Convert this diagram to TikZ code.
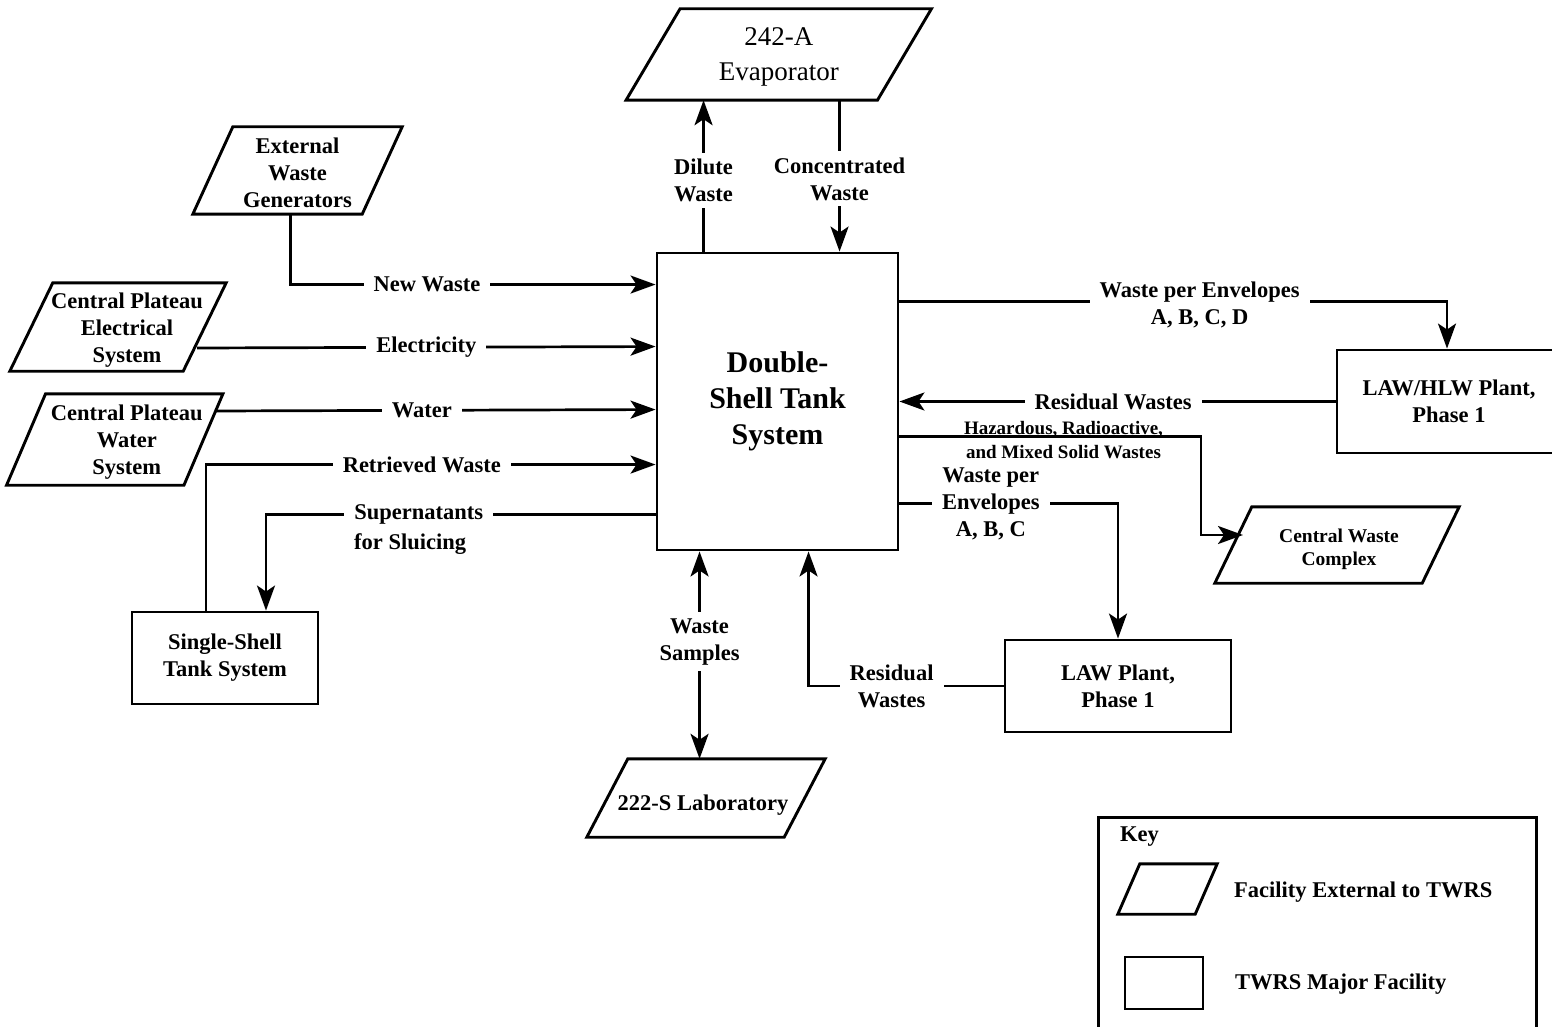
\documentclass[tikz,border=0pt]{standalone}
\usepackage{fontspec}
\setmainfont{Liberation Serif}
\usetikzlibrary{arrows.meta,calc}
\newcommand\labfont{\fontsize{22.5}{27}\selectfont\bfseries}
\newcommand\hzfont{\fontsize{19}{24}\selectfont\bfseries}
\newcommand\cwfont{\fontsize{19.5}{23}\selectfont\bfseries}
\newcommand\dstfont{\fontsize{30}{36}\selectfont\bfseries}
\newcommand\evfont{\fontsize{27}{35}\selectfont}
% #1 name, #2 centre, #3 side, #4 height, #5 slant, #6 text, #7 font, #8 text shift
\newcommand\paragram[8]{%
  \node[pbox,minimum width=#3,minimum height=#4] (#1) at (#2) {};
  \node[pbox,font=#7,#8] (#1-t) at (#1.center) {#6};
  \draw[pline] ([xshift=#5/2]#1.north west) -- ([xshift=#5/2]#1.north east)
     -- ([xshift=-#5/2]#1.south east) -- ([xshift=-#5/2]#1.south west) -- cycle;}
\begin{document}
\begin{tikzpicture}[x=1pt,y=-1pt,
  ln/.style={line width=2.7pt},
  arr/.style={ln,-{Stealth[length=25pt,width=18pt,inset=6pt]}},
  dblarr/.style={ln,{Stealth[length=25pt,width=18pt,inset=6pt]}-{Stealth[length=25pt,width=18pt,inset=6pt]}},
  pline/.style={line width=2.9pt,line join=miter},
  box/.style={draw,line width=2.9pt,rectangle,inner sep=0pt,align=center,font=\labfont},
  pbox/.style={rectangle,inner sep=0pt,align=center},
  lbl/.style={fill=white,inner xsep=10pt,inner ysep=6pt,align=center,font=\labfont},
  txt/.style={inner sep=0pt,align=center,font=\labfont},
]
\useasboundingbox (0,0) rectangle (1552,1027);

% main tank system
\node[box,font=\dstfont,minimum width=241,minimum height=297] (dst) at (777.5,401.5) {\raisebox{-3pt}{Double-}\\\raisebox{-3pt}{Shell Tank}\\\raisebox{-3pt}{System}};

% external facilities (parallelograms)
\paragram{evap}{778.75,54.5}{251}{91}{54}{242-A\\Evaporator}{\evfont}{yshift=-2pt}
\paragram{ewg}{297.5,170.5}{169}{87}{40}{External\\Waste\\Generators}{\labfont}{yshift=-2pt}
\paragram{elec}{118,327}{173}{88}{43}{Central Plateau\\Electrical\\System}{\labfont}{xshift=9pt,yshift=-3pt}
\paragram{water}{114.75,439.5}{177}{91}{39}{Central Plateau\\Water\\System}{\labfont}{xshift=12pt,yshift=-3pt}
\paragram{cwc}{1337,545}{207}{76}{37}{Central Waste\\Complex}{\cwfont}{xshift=2pt,yshift=-4pt}
\paragram{lab}{706,798}{197}{78}{41}{222-S Laboratory}{\labfont}{xshift=-3pt,yshift=-7pt}

% major facilities
\node[box,minimum width=186,minimum height=92] (sst) at (225,658) {Single-Shell\\Tank System};
\node[box,minimum width=226,minimum height=92] (law) at (1118,686) {LAW Plant,\\Phase 1};
\node[box,minimum width=224,minimum height=103] (lawhlw) at (1449,401.5) {LAW/HLW Plant,\\Phase 1};

% ports on the tank system
\coordinate (w1) at ([yshift=-33]dst.north west);
\coordinate (w2) at ([yshift=-95]dst.north west);
\coordinate (w3) at ([yshift=-158]dst.north west);
\coordinate (w4) at ([yshift=-213]dst.north west);
\coordinate (w5) at ([yshift=-263]dst.north west);
\coordinate (n1) at ([xshift=48]dst.north west);
\coordinate (n2) at ([xshift=184]dst.north west);
\coordinate (s1) at ([xshift=44]dst.south west);
\coordinate (s2) at ([xshift=153]dst.south west);
\coordinate (e1) at ([yshift=-50]dst.north east);
\coordinate (e3) at ([yshift=-185]dst.north east);
\coordinate (e4) at ([yshift=-252]dst.north east);
\coordinate (cwcin) at ([xshift=-94,yshift=10]cwc.center);

% connectors
\draw[arr] (n1) -- (n1 |- evap.south) node[lbl,pos=0.47] {Dilute\\Waste};
\draw[arr] (evap.south -| n2) -- (n2) node[lbl,pos=0.52] {Concentrated\\Waste};
\draw[arr] ([xshift=-7]ewg.south) |- (w1) node[lbl,pos=0.687] {New Waste};
\draw[arr] ([xshift=79,yshift=-21]elec.center) -- (w2) node[lbl,pos=0.5] {Electricity};
\draw[arr] ([xshift=100,yshift=28.5]water.center) -- (w3) node[lbl,pos=0.47] {Water};
\draw[arr] ([xshift=-19]sst.north) |- (w4) node[lbl,pos=0.74] {Retrieved Waste};
\draw[arr] (w5) -| ([xshift=41]sst.north)
   node[lbl,pos=0.304] {Supernatants}
   node[txt,pos=0.315,yshift=-30pt] {for Sluicing};
\draw[dblarr] (s1) -- (s1 |- lab.north) node[lbl,pos=0.435] {Waste\\Samples};
\draw[arr] (law.west) -| (s2) node[lbl,pos=0.287] {Residual\\Wastes};
\draw[arr] (e4) -| (law.north) node[lbl,pos=0.209] {Waste per\\Envelopes\\A, B, C};
\draw[arr] (e3) -| node[txt,font=\hzfont,pos=0.272,yshift=-3pt] {Hazardous, Radioactive,\\and Mixed Solid Wastes} ([xshift=-42]cwcin) -- (cwcin);
\draw[arr] (e1) -| ([xshift=-2]lawhlw.north) node[lbl,pos=0.274,yshift=-3pt] {Waste per Envelopes\\A, B, C, D};
\draw[arr] (lawhlw.west) -- (lawhlw.west -| dst.east) node[lbl,pos=0.51] {Residual Wastes};

% key
\node[draw,line width=2.6pt,minimum width=438,minimum height=240,anchor=north west,inner sep=0pt] (keybox) at (1097,816) {};
\node[txt,anchor=west] (keyt) at (1120,837) {Key};
\paragram{keypara}{1167.5,889}{77}{50}{22}{}{\labfont}{}
\node[box,minimum width=78,minimum height=52] (keyrect) at (1164,983) {};
\node[txt,anchor=west] (keyext) at (1234,892) {Facility External to TWRS};
\node[txt,anchor=west] (keymaj) at (1235,984) {TWRS Major Facility};
\end{tikzpicture}
\end{document}
